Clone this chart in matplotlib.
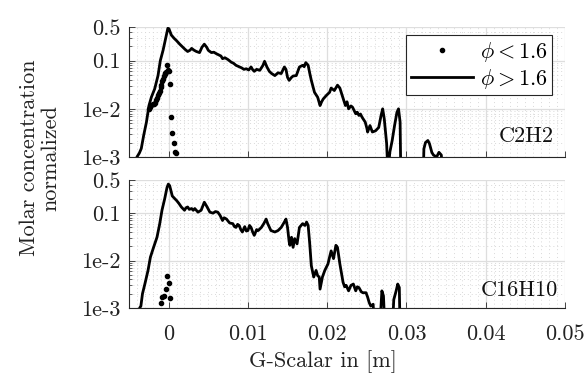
import numpy as np
import matplotlib
matplotlib.use("Agg")
import matplotlib.pyplot as plt
from matplotlib.ticker import FixedLocator, MultipleLocator, NullFormatter

plt.rcParams['font.family'] = ['cmr10', 'DejaVu Serif']
plt.rcParams['mathtext.fontset'] = 'cm'
plt.rcParams['axes.formatter.use_mathtext'] = True

nan = np.nan

# ---- C2H2 (top panel), phi > 1.6 (solid line) ----
x_c2h2_line = [-0.0041, -0.0040, -0.0037, -0.00345, -0.00315, -0.0028, -0.00248, -0.00218, -0.00176,
               -0.00134, -0.00105, -0.0007, -0.00038, -0.0001, 0.00004, 0.00034, 0.0007, 0.001, 0.0014,
               0.0018, 0.0021, 0.0024, 0.0027, 0.0029, 0.0032, 0.0035, 0.0039, 0.0042, 0.0045, 0.0048,
               0.0050, 0.0054, 0.0057, 0.0060, 0.0064, 0.0066, 0.0068, 0.0071, 0.0075, 0.0079, 0.0082,
               0.0085, 0.0088, 0.0092, 0.0095, 0.0098, 0.0101, 0.0104, 0.0106, 0.0108, 0.0111, 0.0115,
               0.0119, 0.0121, 0.0124, 0.0127, 0.0130, 0.0134, 0.0138, 0.0142, 0.0146, 0.0148, 0.0150,
               0.0152, 0.0155, 0.0157, 0.0161, 0.0165, 0.0169, 0.0171, 0.0173, 0.0176, 0.0178, 0.0180,
               0.0184, 0.0188, 0.0191, 0.0193, 0.0195, 0.0199, 0.0203, 0.0205, 0.0209, 0.0213, 0.0216,
               0.0219, 0.0223, 0.0225, 0.0227, 0.0230, 0.0232, 0.0236, 0.0238, 0.0240, 0.0242, 0.0244,
               0.0248, 0.0250, 0.0251, 0.0254, 0.0257, 0.0261, 0.0265, 0.0268, 0.0270, 0.0272, 0.0275,
               0.0276, 0.0278, 0.0279, 0.0282, 0.0285, 0.0288, 0.0290, 0.0292, 0.0293, nan,
               0.0321, 0.0322, 0.0324, 0.0327, 0.0329, 0.0332, 0.0334, 0.0338, 0.0341, 0.0344, 0.0346]
y_c2h2_line = [3e-4, 1.0e-3, 1.2e-3, 1.5e-3, 2.8e-3, 5.3e-3, 1.17e-2, 1.74e-2, 2.6e-2,
               4.9e-2, 0.10, 0.165, 0.29, 0.47, 0.46, 0.34, 0.29, 0.26, 0.22,
               0.19, 0.17, 0.155, 0.165, 0.18, 0.165, 0.155, 0.147, 0.19, 0.22, 0.19,
               0.164, 0.147, 0.15, 0.14, 0.13, 0.125, 0.11, 0.115, 0.105, 0.093, 0.088,
               0.08, 0.076, 0.071, 0.066, 0.068, 0.064, 0.074, 0.065, 0.06, 0.066, 0.063,
               0.08, 0.097, 0.074, 0.06, 0.054, 0.049, 0.056, 0.054, 0.074, 0.066, 0.045,
               0.039, 0.045, 0.048, 0.049, 0.074, 0.08, 0.075, 0.091, 0.08, 0.055, 0.039,
               0.022, 0.0174, 0.0117, 0.014, 0.016, 0.019, 0.022, 0.027, 0.024, 0.031, 0.027,
               0.019, 0.0117, 0.014, 0.010, 0.0115, 0.0108, 0.0079, 0.0085, 0.0073, 0.0078, 0.0067,
               0.0053, 0.0040, 0.0033, 0.0045, 0.0033, 0.0035, 0.0041, 0.0073, 0.010, 0.0062, 0.0019,
               0.0008, 0.0008, 0.00125, 0.0022, 0.0045, 0.0085, 0.010, 0.0053, 3e-4, nan,
               3e-4, 1.48e-3, 2.0e-3, 2.2e-3, 1.9e-3, 1.25e-3, 1.1e-3, 1.0e-3, 1.25e-3, 1.1e-3, 3e-4]

# ---- C2H2 (top panel), phi < 1.6 (dots) ----
x_c2h2_dots = [-0.00248, -0.0023, -0.00218, -0.0020, -0.00189, -0.00175, -0.00164, -0.0015, -0.00134,
               -0.00122, -0.00113, -0.00102, -0.00092, -0.0008, -0.0007, -0.0006, -0.0005, -0.0004,
               -0.0003, -0.0002, -0.0001, 0.00004, 0.00013, 0.00025, 0.00042, 0.00063, 0.00084, 0.00097]
y_c2h2_dots = [0.0100, 0.0110, 0.0123, 0.0125, 0.0127, 0.0135, 0.0149, 0.0165, 0.019,
               0.021, 0.024, 0.028, 0.0316, 0.037, 0.042, 0.048, 0.054, 0.056,
               0.058, 0.083, 0.065, 0.060, 0.033, 0.0067, 0.0032, 0.0020, 0.0013, 0.0012]

# ---- C16H10 (bottom panel), phi > 1.6 (solid line) ----
x_c16_line = [-0.0037, -0.00366, -0.0035, -0.0033, -0.0030, -0.0026, -0.0023, -0.0019, -0.00147,
              -0.00113, -0.00084, -0.0005, -0.0002, -0.00004, 0.00013, 0.00046, 0.0008, 0.001, 0.0013,
              0.0016, 0.002, 0.0022, 0.0024, 0.0026, 0.0029, 0.0031, 0.0033, 0.0037, 0.0041, 0.0045,
              0.0048, 0.0052, 0.0056, 0.0059, 0.0062, 0.0065, 0.0068, 0.0070, 0.0073, 0.0075, 0.0077,
              0.0081, 0.0083, 0.0085, 0.0087, 0.0089, 0.0091, 0.0093, 0.0096, 0.0098, 0.0100, 0.0102,
              0.0104, 0.0106, 0.0108, 0.0111, 0.0113, 0.0117, 0.0120, 0.0123, 0.0125, 0.0129, 0.0134,
              0.0138, 0.0142, 0.0146, 0.0148, 0.0150, 0.0152, 0.0153, 0.0155, 0.0157, 0.0159, 0.0162,
              0.0165, 0.0169, 0.0172, 0.0174, 0.0176, 0.0178, 0.0180, 0.0183, 0.0186, 0.0188, 0.0190,
              0.0191, 0.0194, 0.0197, 0.0201, 0.0203, 0.0205, 0.0208, 0.0211, 0.0213, 0.0216, 0.0220,
              0.0222, 0.0224, 0.0227, 0.0230, 0.0233, 0.0236, 0.0238, 0.0240, 0.0243, 0.0245, 0.0249,
              0.0251, 0.0253, 0.0255, 0.0258, 0.0260, nan, 0.0266, 0.0269, 0.0271, 0.0273, nan,
              0.0282, 0.0284, 0.0287, 0.0289, 0.0291, 0.0292]
y_c16_line = [3e-4, 1.0e-3, 1.1e-3, 2.0e-3, 3.2e-3, 6.2e-3, 1.18e-2, 1.9e-2, 3.1e-2,
              5.9e-2, 0.115, 0.20, 0.35, 0.41, 0.38, 0.23, 0.20, 0.185, 0.16,
              0.135, 0.115, 0.13, 0.135, 0.12, 0.125, 0.115, 0.125, 0.105, 0.115, 0.17,
              0.14, 0.105, 0.10, 0.108, 0.105, 0.089, 0.07, 0.08, 0.075, 0.068, 0.062,
              0.06, 0.052, 0.05, 0.058, 0.055, 0.045, 0.04, 0.052, 0.042, 0.043, 0.055,
              0.05, 0.04, 0.034, 0.045, 0.043, 0.05, 0.06, 0.075, 0.06, 0.043, 0.04,
              0.043, 0.05, 0.065, 0.075, 0.05, 0.025, 0.021, 0.031, 0.019, 0.029, 0.0225,
              0.05, 0.06, 0.055, 0.065, 0.055, 0.0225, 0.0078, 0.0045, 0.0062, 0.0048, 0.0045,
              0.0025, 0.0045, 0.0062, 0.0085, 0.0118, 0.016, 0.011, 0.021, 0.019, 0.0085, 0.0035,
              0.0028, 0.003, 0.0023, 0.003, 0.0032, 0.0023, 0.0028, 0.0027, 0.0022, 0.0021, 0.0021,
              0.0017, 0.0013, 0.0011, 0.0012, 3e-4, nan, 3e-4, 0.0023, 0.0018, 3e-4, nan,
              3e-4, 0.0015, 0.0023, 0.0032, 0.0027, 3e-4]

# ---- C16H10 (bottom panel), phi < 1.6 (dots) ----
x_c16_dots = [-0.0010, -0.0008, -0.0006, -0.00038, -0.00016, 0.00004, 0.00016]
y_c16_dots = [0.00129, 0.00173, 0.00178, 0.0025, 0.0047, 0.0033, 0.00165]

species = ["C2H2", "C16H10"]
legend_labels = [r"$\phi < 1.6$", r"$\phi > 1.6$"]
xtick_vals = [0, 0.01, 0.02, 0.03, 0.04, 0.05]
xtick_labels = ["0", "0.01", "0.02", "0.03", "0.04", "0.05"]
ytick_vals = [1e-3, 1e-2, 0.1, 0.5]
ytick_labels = ["1e-3", "1e-2", "0.1", "0.5"]

FS = 16
W, H = 585, 377
fig = plt.figure(figsize=(W / 100, H / 100), dpi=100)
ax_top = fig.add_axes([129 / W, 1 - 157 / H, 436 / W, 130 / H])
ax_bot = fig.add_axes([129 / W, 1 - 308 / H, 436 / W, 128 / H])

axis_col = '#262626'
series = [(ax_top, x_c2h2_line, y_c2h2_line, x_c2h2_dots, y_c2h2_dots),
          (ax_bot, x_c16_line, y_c16_line, x_c16_dots, y_c16_dots)]

for i, (ax, xl, yl, xd, yd) in enumerate(series):
    ax.set_yscale('log')
    ax.set_xlim(-0.005, 0.05)
    ax.set_ylim(1e-3, 0.5)
    hd, = ax.plot(xd, yd, linestyle='none', marker='o', ms=3.0, color='k', mec='k')
    hl, = ax.plot(xl, yl, color='k', lw=2.0)
    ax.set_xticks(xtick_vals)
    ax.set_xticklabels(xtick_labels if i == 1 else [])
    ax.xaxis.set_minor_locator(MultipleLocator(0.001))
    ax.yaxis.set_major_locator(FixedLocator(ytick_vals))
    ax.set_yticklabels(ytick_labels)
    minors = [k * 10.0 ** e for e in (-3, -2) for k in range(2, 10)] + [0.2, 0.3, 0.4]
    ax.yaxis.set_minor_locator(FixedLocator(minors))
    ax.yaxis.set_minor_formatter(NullFormatter())
    ax.grid(True, which='major', color='#dedede', lw=0.9, ls='-')
    ax.grid(True, which='minor', color='#d9d9d9', lw=0.7, ls=(0, (1, 3)))
    ax.set_axisbelow(True)
    for s in ('top', 'right'):
        ax.spines[s].set_visible(False)
    for s in ('left', 'bottom'):
        ax.spines[s].set_color(axis_col)
        ax.spines[s].set_linewidth(0.8)
    ax.tick_params(which='major', direction='in', length=4, width=0.6, colors=axis_col,
                   labelsize=FS, labelcolor='#222222')
    ax.tick_params(axis='x', which='minor', length=0)
    ax.tick_params(axis='y', which='minor', direction='in', length=2.2, width=0.5, colors=axis_col)
    ax.tick_params(axis='y', which='major', pad=6)
    ax.tick_params(axis='x', which='major', pad=12)
    ax.text(0.975 if i == 0 else 0.983, 0.16 if i == 0 else 0.14, species[i],
            transform=ax.transAxes, ha='right', va='center', fontsize=FS, color='#111111')
    if i == 0:
        leg = ax.legend([hd, hl], legend_labels, loc='upper right', bbox_to_anchor=(0.970, 0.938),
                        borderaxespad=0, fancybox=False, framealpha=1, edgecolor=axis_col,
                        fontsize=FS, handlelength=2.8, handletextpad=0.3, borderpad=0.2,
                        labelspacing=0.15, markerscale=1.0)
        leg.get_frame().set_linewidth(0.8)

fig.text(40 / W, 1 - 158 / H, "Molar concentration\nnormalized", rotation=90,
         ha='center', va='center', fontsize=FS, color='#222222', linespacing=1.1)
fig.text(323 / W, 1 - 362 / H, "G-Scalar in [m]", ha='center', va='center', fontsize=FS,
         color='#222222')

fig.savefig("out.png", dpi=100)
